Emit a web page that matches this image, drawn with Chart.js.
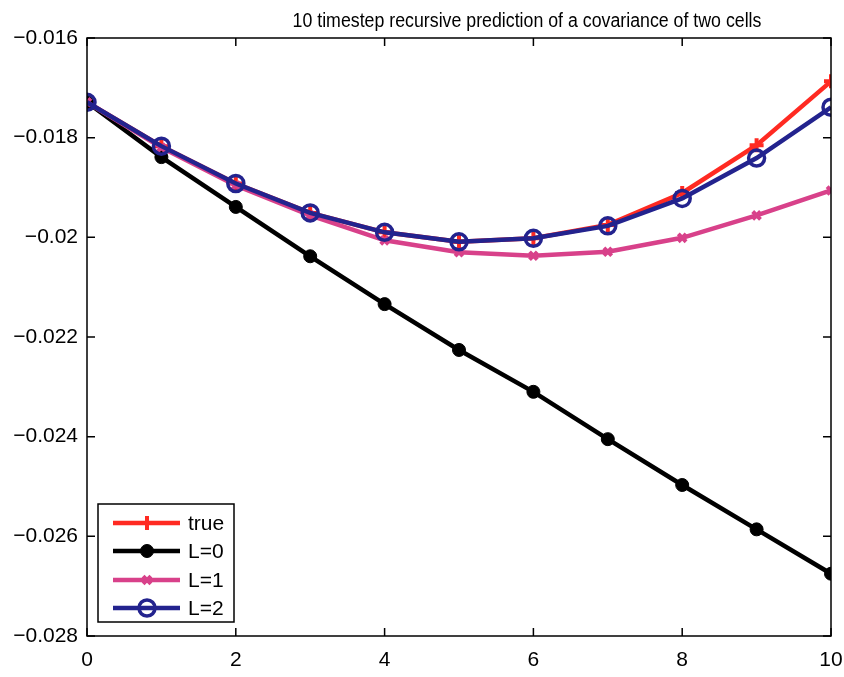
<!DOCTYPE html>
<html>
<head>
<meta charset="utf-8">
<script src="https://cdn.jsdelivr.net/npm/chart.js@4/dist/chart.umd.min.js"></script>
<style>
  body { margin: 0; background: #fff; }
  #wrap { width: 844px; height: 677px; }
</style>
</head>
<body>
<div id="wrap"><canvas id="grafik" width="844" height="677"></canvas></div>
<script>
const steps = [0, 1, 2, 3, 4, 5, 6, 7, 8, 9, 10];
const trueVals = [-0.01729, -0.01817, -0.01892, -0.01951, -0.0199, -0.02009, -0.02002, -0.01975, -0.01911, -0.01815, -0.01687];
const l0Vals = [-0.01729, -0.01839, -0.01939, -0.02038, -0.02134, -0.02226, -0.0231, -0.02405, -0.02497, -0.02586, -0.02675];
const l1Vals = [-0.01729, -0.0182, -0.01896, -0.01956, -0.02006, -0.0203, -0.02037, -0.02029, -0.02001, -0.01956, -0.01906];
const l2Vals = [-0.01729, -0.01817, -0.01892, -0.01951, -0.0199, -0.02009, -0.02002, -0.01977, -0.01922, -0.01841, -0.01739];
const xTicks = [0, 2, 4, 6, 8, 10];
const yTicks = [-0.028, -0.026, -0.024, -0.022, -0.02, -0.018, -0.016];
const titleText = "10 timestep recursive prediction of a covariance of two cells";

const FONT = "Arial, 'Liberation Sans', sans-serif";

function pts(vals) {
  return steps.map((x, i) => ({ x: x, y: vals[i] }));
}

function fmt(v) {
  if (v === 0) return "0";
  const s = String(Number(Math.abs(v).toFixed(3)));
  return v < 0 ? "\u2212" + s : s;
}

const datasets = [
  { label: "true", data: pts(trueVals), borderColor: "#ff2a22", backgroundColor: "#ff2a22",
    pointStyle: "cross", pointRadius: 7, pointBorderWidth: 4, order: 4 },
  { label: "L=0", data: pts(l0Vals), borderColor: "#000000", backgroundColor: "#000000",
    pointStyle: "circle", pointRadius: 6.5, pointBorderWidth: 1, order: 3 },
  { label: "L=1", data: pts(l1Vals), borderColor: "#d8418a", backgroundColor: "#d8418a",
    pointStyle: "crossRot", pointRadius: 5.5, pointBorderWidth: 4, order: 2 },
  { label: "L=2", data: pts(l2Vals), borderColor: "#23238e", backgroundColor: "rgba(0,0,0,0)",
    pointStyle: "circle", pointRadius: 8, pointBorderWidth: 3.5, order: 1 }
];
datasets.forEach(d => {
  d.borderWidth = 4.5;
  d.tension = 0;
  d.pointHoverRadius = d.pointRadius;
});

// box around the axes, ticks pointing inward, title and legend
const boxPlugin = {
  id: "box",
  afterDraw(chart) {
    const ctx = chart.ctx;
    const a = chart.chartArea;
    const xs = chart.scales.x, ys = chart.scales.y;
    ctx.save();
    ctx.strokeStyle = "#000";
    ctx.lineWidth = 1.5;
    ctx.strokeRect(a.left, a.top, a.right - a.left, a.bottom - a.top);
    ctx.beginPath();
    xTicks.forEach(t => {
      const px = xs.getPixelForValue(t);
      ctx.moveTo(px, a.bottom); ctx.lineTo(px, a.bottom - 8);
      ctx.moveTo(px, a.top); ctx.lineTo(px, a.top + 8);
    });
    yTicks.forEach(t => {
      const py = ys.getPixelForValue(t);
      ctx.moveTo(a.left, py); ctx.lineTo(a.left + 8, py);
      ctx.moveTo(a.right, py); ctx.lineTo(a.right - 8, py);
    });
    ctx.stroke();

    // title (slightly condensed like the scanned original)
    ctx.save();
    ctx.fillStyle = "#000";
    ctx.font = "20px " + FONT;
    ctx.textAlign = "center";
    ctx.textBaseline = "middle";
    ctx.translate(527, 21);
    ctx.scale(0.888, 1);
    ctx.fillText(titleText, 0, 0);
    ctx.restore();

    // legend
    const lx = 98, ly = 504, lw = 136, lh = 118;
    ctx.fillStyle = "#fff";
    ctx.fillRect(lx, ly, lw, lh);
    ctx.lineWidth = 1.5;
    ctx.strokeStyle = "#000";
    ctx.strokeRect(lx, ly, lw, lh);
    const rows = [523, 551, 580, 608];
    datasets.forEach((d, i) => {
      const y = rows[i];
      ctx.strokeStyle = d.borderColor;
      ctx.lineWidth = d.borderWidth;
      ctx.beginPath();
      ctx.moveTo(113, y); ctx.lineTo(180, y);
      ctx.stroke();
      ctx.fillStyle = d.backgroundColor;
      ctx.strokeStyle = d.borderColor;
      ctx.lineWidth = d.pointBorderWidth;
      Chart.helpers.drawPoint(ctx, {
        pointStyle: d.pointStyle, radius: d.pointRadius, borderWidth: d.pointBorderWidth,
        rotation: 0
      }, 147, y);
      ctx.fillStyle = "#000";
      ctx.font = "21px " + FONT;
      ctx.textAlign = "left";
      ctx.textBaseline = "middle";
      ctx.fillText(d.label, 188, y + 1);
    });
    ctx.restore();
  }
};

new Chart(document.getElementById("grafik"), {
  type: "line",
  data: { datasets: datasets },
  plugins: [boxPlugin],
  options: {
    responsive: false,
    animation: false,
    events: [],
    layout: { padding: { top: 38, right: 13, bottom: 0, left: 0 } },
    plugins: { legend: { display: false }, title: { display: false }, tooltip: { enabled: false } },
    scales: {
      x: {
        type: "linear", min: 0, max: 10,
        afterFit: s => { s.height = 41; s.paddingLeft = 0; s.paddingRight = 0; },
        afterBuildTicks: s => { s.ticks = xTicks.map(v => ({ value: v })); },
        grid: { display: false, drawTicks: false },
        border: { display: false },
        ticks: { color: "#000", padding: 12, maxRotation: 0, font: { family: FONT, size: 21 }, callback: v => fmt(v) }
      },
      y: {
        type: "linear", min: -0.028, max: -0.016,
        afterFit: s => { s.width = 87; s.paddingTop = 0; s.paddingBottom = 0; },
        afterBuildTicks: s => { s.ticks = yTicks.map(v => ({ value: v })); },
        grid: { display: false, drawTicks: false },
        border: { display: false },
        ticks: { color: "#000", padding: 9, font: { family: FONT, size: 21 }, callback: v => fmt(v) }
      }
    }
  }
});
</script>
</body>
</html>
